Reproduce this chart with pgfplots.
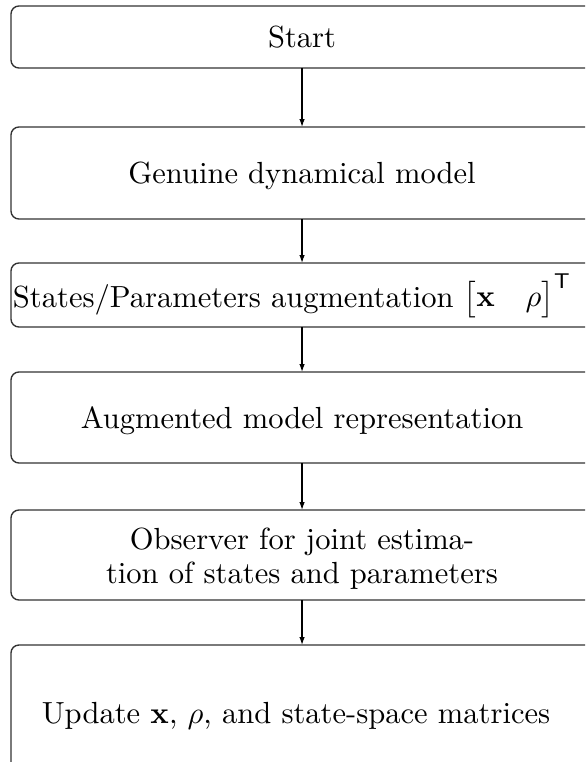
\documentclass[border=0pt]{standalone}
\usepackage{amsmath}
\usepackage{pgfplots}
\pgfplotsset{compat=1.18}
\usetikzlibrary{arrows.meta}
\begin{document}
\begin{tikzpicture}
\def\W{191.5pt}
\def\H{249.4pt}
\useasboundingbox (0,0) rectangle (\W,\H);
\clip (0,0) rectangle (\W,\H);
\begin{axis}[
  at={(0,0)}, anchor=south west,
  scale only axis, width=\W, height=\H,
  xmin=0, xmax=585, ymin=0, ymax=762, y dir=reverse,
  hide axis, clip=false,
]
% boxes: left, top, right, bottom (pixels)
\draw[black!80, line width=0.45pt, rounded corners=2.6pt] (axis cs:11,6) rectangle (axis cs:594,68);
\draw[black!80, line width=0.45pt, rounded corners=2.6pt] (axis cs:11,127) rectangle (axis cs:594,219);
\draw[black!80, line width=0.45pt, rounded corners=2.6pt] (axis cs:11,263) rectangle (axis cs:594,327);
\draw[black!80, line width=0.45pt, rounded corners=2.6pt] (axis cs:11,372) rectangle (axis cs:594,463);
\draw[black!80, line width=0.45pt, rounded corners=2.6pt] (axis cs:11,510) rectangle (axis cs:594,600);
\draw[black!80, line width=0.45pt, rounded corners=2.6pt] (axis cs:11,645) rectangle (axis cs:594,780);
% arrows
\addplot[black, line width=0.4pt, -{Latex[length=2.6pt,width=1.8pt]}] coordinates {(302,68) (302,127)};
\addplot[black, line width=0.4pt, -{Latex[length=2.6pt,width=1.8pt]}] coordinates {(302,219) (302,263)};
\addplot[black, line width=0.4pt, -{Latex[length=2.6pt,width=1.8pt]}] coordinates {(302,327) (302,372)};
\addplot[black, line width=0.4pt, -{Latex[length=2.6pt,width=1.8pt]}] coordinates {(302,463) (302,510)};
\addplot[black, line width=0.4pt, -{Latex[length=2.6pt,width=1.8pt]}] coordinates {(302,600) (302,645)};
% texts
\node[anchor=base, inner sep=0pt] at (axis cs:302,48) {Start};
\node[anchor=base, inner sep=0pt] at (axis cs:302,183) {Genuine dynamical model};
\node[anchor=base, inner sep=0pt] at (axis cs:292,307) {States/Parameters augmentation $\begin{bmatrix}\mathbf{x} & \rho\end{bmatrix}^{\mathsf{T}}$};
\node[anchor=base, inner sep=0pt] at (axis cs:302,428) {Augmented model representation};
\node[anchor=base, inner sep=0pt] at (axis cs:302,549) {Observer for joint estima-};
\node[anchor=base, inner sep=0pt] at (axis cs:302,583) {tion of states and parameters};
\node[anchor=base, inner sep=0pt] at (axis cs:296,723) {Update $\mathbf{x}$, $\rho$, and state-space matrices};
\end{axis}
\end{tikzpicture}
\end{document}
